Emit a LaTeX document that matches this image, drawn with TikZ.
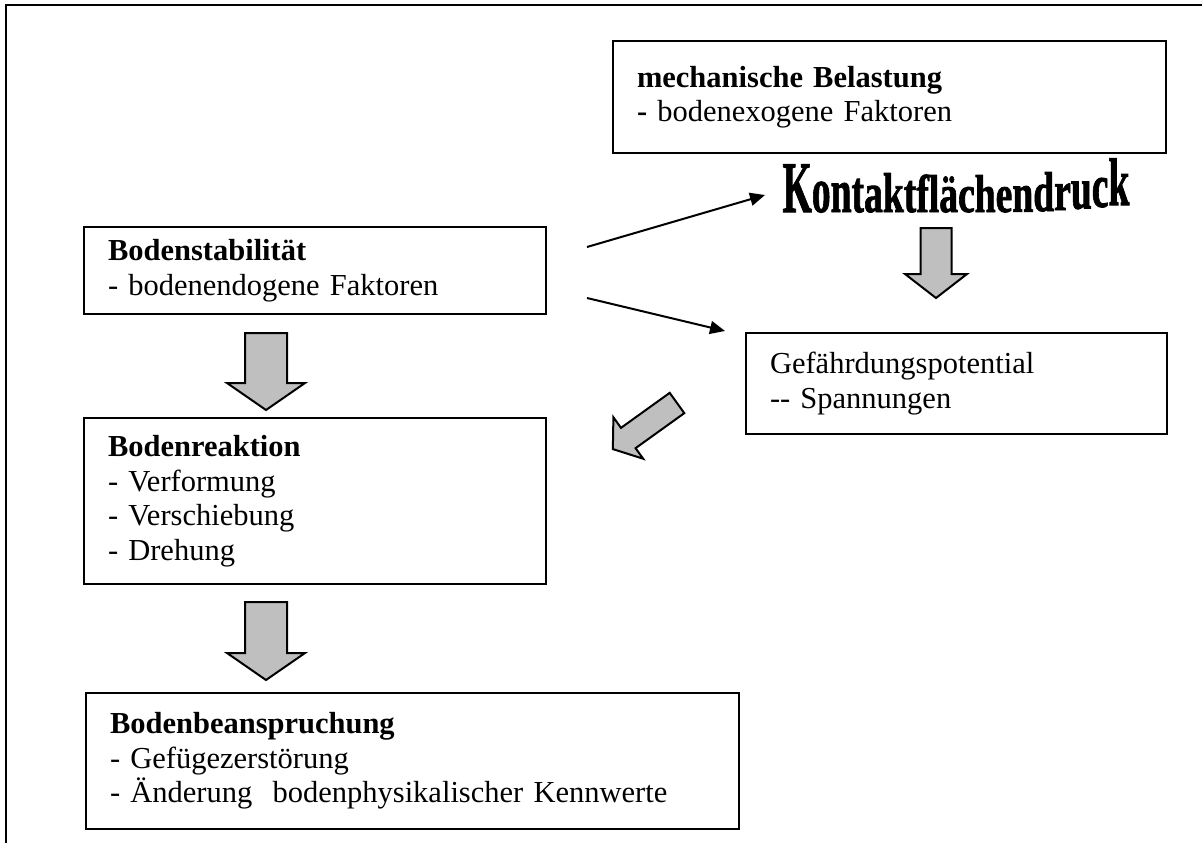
\documentclass[tikz,border=0pt]{standalone}
\usepackage{fontspec}
\usepackage{graphicx}
\setmainfont{Liberation Serif}
\newfontfamily\archfont[FakeBold=1.6]{Liberation Serif Bold}
\usetikzlibrary{arrows.meta,calc}

% one letter of the arched heading: letter, vertical scale, raise
\newcommand\archletter[3]{\raisebox{#3pt}{\scalebox{1}[#2]{#1}}}

\tikzset{
  box/.style={draw, line width=2pt, align=left, anchor=north west,
    inner xsep=24pt, inner ysep=0pt,
    font=\fontsize{30.5}{34.5}\selectfont},
  link/.style={line width=2pt, -{Triangle[length=15pt,width=13pt]}},
  frame/.style={line width=2.5pt},
  blockstyle/.style={draw, line width=2pt, fill=gray!50, line join=miter},
  % block arrow pointing along +x: length, shaft width, head width, head length
  pics/blockarrow/.style n args={4}{code={
    \draw[blockstyle] (0,{-#2/2}) -- ({#1-#4},{-#2/2}) -- ({#1-#4},{-#3/2})
      -- (#1,0) -- ({#1-#4},{#3/2}) -- ({#1-#4},{#2/2}) -- (0,{#2/2}) -- cycle;
  }}
}

\begin{document}
\begin{tikzpicture}[x=1pt,y=-1pt]
\useasboundingbox (0,0) rectangle (1202,843);

% outer frame
\draw[frame] (6,843) -- (6,5) -- (1202,5);

% text boxes
\node[box, text width=505pt, minimum height=112pt] (mech) at (612,40)
  {\textbf{mechanische Belastung}\\\textbf{-} bodenexogene Faktoren};
\node[box, text width=414pt, minimum height=87pt] (stab) at (83,226)
  {\textbf{Bodenstabilität}\\- bodenendogene Faktoren};
\node[box, text width=373pt, minimum height=101pt] (gef) at (745,332)
  {Gefährdungspotential\\-{}- Spannungen};
\node[box, text width=414pt, minimum height=166pt] (reak) at (83,417)
  {\textbf{Bodenreaktion}\\- Verformung\\- Verschiebung\\- Drehung};
\node[box, text width=605pt, minimum height=136pt] (bean) at (85,692)
  {\textbf{Bodenbeanspruchung}\\- Gefügezerstörung\\- Änderung~ bodenphysikalischer Kennwerte};

% arched heading
\node[inner sep=0pt, anchor=base] (kontakt) at (956,212)
  {\archfont\fontsize{40}{40}\selectfont\scalebox{0.94}[1.4]{%
   \archletter{K}{1.3}{0}\archletter{o}{1.15}{0}\archletter{n}{1.1}{0}%
   \archletter{t}{1.05}{0}\archletter{a}{1.0}{0}\archletter{k}{1.0}{0}%
   \archletter{t}{0.98}{0}\archletter{f}{0.95}{0}\archletter{l}{0.95}{0}%
   \archletter{ä}{0.95}{0}\archletter{c}{0.95}{0}\archletter{h}{0.95}{0}%
   \archletter{e}{0.95}{0}\archletter{n}{0.97}{0.3}\archletter{d}{1.0}{0.7}%
   \archletter{r}{1.0}{1.4}\archletter{u}{1.05}{2.5}\archletter{c}{1.1}{3.6}%
   \archletter{k}{1.2}{5}}};

% thin arrows
\coordinate (s1) at ($(stab.east)+(40,-23.5)$);
\coordinate (e1) at (765,195);
\coordinate (s2) at ($(stab.east)+(40,27.5)$);
\coordinate (e2) at ($(gef.north west)+(-20,-1)$);
\draw[link] (s1) -- (e1);
\draw[link] (s2) -- (e2);

% block arrows
\pic[rotate=-90] (down1) at (266,333) {blockarrow={77}{42}{78}{27}};
\pic[rotate=-90] (down2) at (266,602) {blockarrow={78}{42}{78}{27}};
\pic[rotate=-90] (down3) at (936,228) {blockarrow={70}{31}{62}{24}};
\pic[rotate=-144.3] (diag) at (677,403) {blockarrow={79}{25}{51}{19}};
\end{tikzpicture}
\end{document}
